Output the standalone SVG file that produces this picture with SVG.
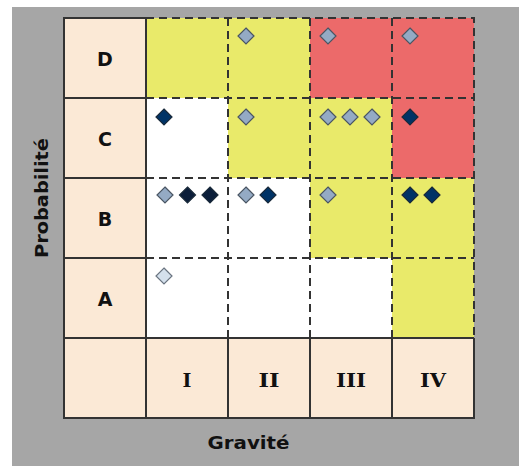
<svg xmlns="http://www.w3.org/2000/svg" width="519" height="466" viewBox="0 0 519 466">
<style>
.hdr{fill:#fbe9d6}
.y{fill:#e9ea6a}
.r{fill:#ec6a6a}
.w{fill:#ffffff}
.solid{stroke:#333;stroke-width:2;fill:none}
.dash{stroke:#333;stroke-width:2;fill:none;stroke-dasharray:8 5}
.lbl{font-family:"DejaVu Sans",sans-serif;font-weight:bold;font-size:19px;fill:#111;text-anchor:middle}
.rom{font-family:"DejaVu Serif",serif;font-weight:bold;font-size:19px;fill:#111;text-anchor:middle}
.ax{font-family:"DejaVu Sans",sans-serif;font-weight:bold;font-size:18px;fill:#111;text-anchor:middle}
.dl{fill:#94aac4;stroke:#4a5563;stroke-width:1.2}
.dd{fill:#003366;stroke:#1a2a3a;stroke-width:1.2}
.dv{fill:#0b1e3a;stroke:#1a2a3a;stroke-width:1.2}
.dx{fill:#d4e0ec;stroke:#6a7480;stroke-width:1.2}
</style>
<defs>
<path id="dm" d="M0,-8 L8,0 L0,8 L-8,0 Z"/>
</defs>
<rect x="0" y="0" width="519" height="466" fill="#ffffff"/>
<rect x="12" y="7" width="507" height="459" fill="#a6a6a6"/>

<g id="cells">
<rect class="y" x="146" y="18" width="82" height="80"/>
<rect class="y" x="228" y="18" width="82" height="80"/>
<rect class="r" x="310" y="18" width="82" height="80"/>
<rect class="r" x="392" y="18" width="82" height="80"/>
<rect class="w" x="146" y="98" width="82" height="80"/>
<rect class="y" x="228" y="98" width="82" height="80"/>
<rect class="y" x="310" y="98" width="82" height="80"/>
<rect class="r" x="392" y="98" width="82" height="80"/>
<rect class="w" x="146" y="178" width="82" height="80"/>
<rect class="w" x="228" y="178" width="82" height="80"/>
<rect class="y" x="310" y="178" width="82" height="80"/>
<rect class="y" x="392" y="178" width="82" height="80"/>
<rect class="w" x="146" y="258" width="82" height="80"/>
<rect class="w" x="228" y="258" width="82" height="80"/>
<rect class="w" x="310" y="258" width="82" height="80"/>
<rect class="y" x="392" y="258" width="82" height="80"/>
</g>

<g id="row-headers">
<g id="row-D"><rect class="hdr" x="64" y="18" width="82" height="80"/><text class="lbl" x="105" y="66">D</text></g>
<g id="row-C"><rect class="hdr" x="64" y="98" width="82" height="80"/><text class="lbl" x="105" y="146">C</text></g>
<g id="row-B"><rect class="hdr" x="64" y="178" width="82" height="80"/><text class="lbl" x="105" y="226">B</text></g>
<g id="row-A"><rect class="hdr" x="64" y="258" width="82" height="80"/><text class="lbl" x="105" y="306">A</text></g>
</g>
<g id="col-headers">
<g id="corner"><rect class="hdr" x="64" y="338" width="82" height="80"/></g>
<g id="col-I"><rect class="hdr" x="146" y="338" width="82" height="80"/><text class="rom" x="187" y="387">I</text></g>
<g id="col-II"><rect class="hdr" x="228" y="338" width="82" height="80"/><text class="rom" x="269" y="387" textLength="21" lengthAdjust="spacingAndGlyphs">II</text></g>
<g id="col-III"><rect class="hdr" x="310" y="338" width="82" height="80"/><text class="rom" x="351" y="387" textLength="30" lengthAdjust="spacingAndGlyphs">III</text></g>
<g id="col-IV"><rect class="hdr" x="392" y="338" width="82" height="80"/><text class="rom" x="433" y="387" textLength="26" lengthAdjust="spacingAndGlyphs">IV</text></g>
</g>

<g id="grid-lines">
<path class="dash" d="M146,18 H474 V338 M146,98 H474 M146,178 H474 M146,258 H474 M228,18 V338 M310,18 V338 M392,18 V338"/>
<path class="solid" d="M146,18 H64 V418 H474 V338 M64,98 H146 M64,178 H146 M64,258 H146 M64,338 H474 M146,18 V418 M228,338 V418 M310,338 V418 M392,338 V418"/>
</g>

<g id="markers">
<use href="#dm" class="dl" x="246" y="36"/>
<use href="#dm" class="dl" x="328" y="36"/>
<use href="#dm" class="dl" x="410" y="36"/>
<use href="#dm" class="dd" x="164" y="117"/>
<use href="#dm" class="dl" x="246" y="117"/>
<use href="#dm" class="dl" x="328" y="117"/>
<use href="#dm" class="dl" x="350" y="117"/>
<use href="#dm" class="dl" x="372" y="117"/>
<use href="#dm" class="dd" x="410" y="117"/>
<use href="#dm" class="dl" x="165" y="195"/>
<use href="#dm" class="dv" x="187.5" y="195"/>
<use href="#dm" class="dv" x="210" y="195"/>
<use href="#dm" class="dl" x="246" y="195"/>
<use href="#dm" class="dd" x="268" y="195"/>
<use href="#dm" class="dl" x="328" y="195"/>
<use href="#dm" class="dd" x="410" y="195"/>
<use href="#dm" class="dd" x="432" y="195"/>
<use href="#dm" class="dx" x="164" y="276"/>
</g>

<g id="axis-labels">
<text class="ax" x="248.5" y="449" textLength="82" lengthAdjust="spacingAndGlyphs">Gravité</text>
<text class="ax" transform="translate(48,198) rotate(-90)" x="0" y="0" textLength="120" lengthAdjust="spacingAndGlyphs">Probabilité</text>
</g>
</svg>
